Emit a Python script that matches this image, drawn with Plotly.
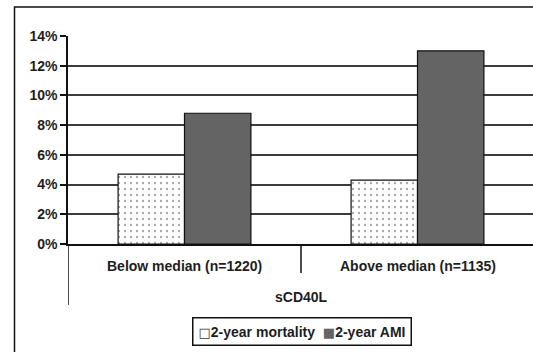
import plotly.graph_objects as go

# sCD40L groups and 2-year outcome rates (%)
groups = ["Below median (n=1220)", "Above median (n=1135)"]
mortality = [4.7, 4.3]
ami = [8.8, 13.0]
series_names = ["2-year mortality", "2-year AMI"]
axis_title = "sCD40L"
y_ticks = [0, 2, 4, 6, 8, 10, 12, 14]

FONT = "Liberation Sans Narrow, Arial Narrow, Liberation Sans, Arial, sans-serif"
INK = "#1e1e1e"
GRID = "#3c3c3c"
AMI_FILL = "#646464"

x_pos = list(range(len(groups)))

fig = go.Figure()
fig.add_trace(go.Bar(
    x=x_pos, y=mortality, name=series_names[0],
    marker=dict(color="white", line=dict(color="#111111", width=1.2),
                pattern=dict(shape=".", fgcolor="#555555", bgcolor="white",
                             size=6, solidity=0.12)),
))
fig.add_trace(go.Bar(
    x=x_pos, y=ami, name=series_names[1],
    marker=dict(color=AMI_FILL, line=dict(color="#111111", width=1.2)),
))

# plot area: 68..533 px wide, one category = 233 px
px_per_cat = 233.0
plot_w = 533 - 68
plot_h = 208
x_range = [-0.5, -0.5 + plot_w / px_per_cat]

shapes = []
# outer frame of the chart
shapes.append(dict(type="rect", xref="paper", yref="paper",
                   x0=(14.5 - 68) / plot_w, x1=(534 - 68) / plot_w,
                   y0=(244 - 353) / plot_h, y1=(244 - 7) / plot_h,
                   line=dict(color="#111111", width=1.5)))
# category dividers below the axis
shapes.append(dict(type="line", xref="x", yref="paper",
                   x0=-0.5, x1=-0.5, y0=0, y1=(244 - 305) / plot_h,
                   line=dict(color="#111111", width=1.5)))
for i in range(len(groups) - 1):
    shapes.append(dict(type="line", xref="x", yref="paper",
                       x0=i + 0.5, x1=i + 0.5, y0=0, y1=(244 - 273) / plot_h,
                       line=dict(color="#111111", width=1.5)))

label_font = dict(family=FONT, size=14, color=INK, weight="bold")
annotations = []
for i, g in enumerate(groups):
    annotations.append(dict(x=i, y=0, xref="x", yref="y", text=g,
                            showarrow=False, yanchor="middle", yshift=-22,
                            font=label_font))
annotations.append(dict(x=(x_pos[0] + x_pos[-1]) / 2, y=0, xref="x", yref="y",
                        text=axis_title, showarrow=False, yanchor="middle", yshift=-53,
                        font=label_font))

# compact boxed key with small square swatches
key_text = (
    "<span style='font-family:DejaVu Sans;font-size:13px;color:#333'>\u25a1</span>"
    + series_names[0]
    + "  <span style='font-family:DejaVu Sans;font-size:13px;color:" + AMI_FILL + "'>\u25a0</span>"
    + series_names[1]
)
annotations.append(dict(x=(302 - 68) / plot_w, y=(244 - 331) / plot_h,
                        xref="paper", yref="paper", text=key_text,
                        showarrow=False, xanchor="center", yanchor="middle",
                        bordercolor="#111111", borderwidth=1.5, borderpad=5,
                        bgcolor="white", font=label_font))

fig.update_layout(
    width=533, height=352,
    margin=dict(l=68, r=0, t=36, b=108),
    paper_bgcolor="white", plot_bgcolor="white",
    barmode="group", bargap=0.43, bargroupgap=0,
    showlegend=False,
    xaxis=dict(range=x_range, showticklabels=False, ticks="", showgrid=False,
               showline=True, linecolor="#111111", linewidth=1.5, zeroline=False,
               fixedrange=True),
    yaxis=dict(range=[0, 14], tickvals=y_ticks,
               ticktext=[f"{v}%" for v in y_ticks],
               ticks="outside", ticklen=6, tickwidth=1.5, tickcolor="#111111",
               showline=True, linecolor="#111111", linewidth=1.5,
               showgrid=True, gridcolor=GRID, gridwidth=1.5, zeroline=False,
               tickfont=label_font),
    shapes=shapes, annotations=annotations,
)

fig.write_html("out.html")
